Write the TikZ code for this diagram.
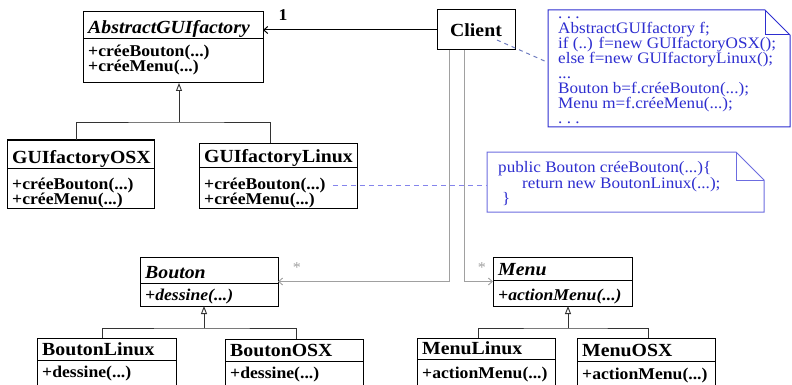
\documentclass[tikz,border=0pt]{standalone}
\usepackage{fontspec}
\setmainfont{Liberation Serif}[FakeStretch=1.07]
\usetikzlibrary{arrows.meta,calc}
\definecolor{noteblue}{HTML}{2E2ED0}
\definecolor{notelight}{HTML}{6C6CE0}
\definecolor{dashblue}{HTML}{8484EC}
\definecolor{dashgrey}{HTML}{6E7CC0}
\definecolor{assocgrey}{HTML}{A0A0A0}
\newcommand{\pdots}{...}

\tikzset{
  classbox/.style={draw=black, line width=1pt, inner sep=0pt, outer sep=0pt},
  classline/.style={black, line width=1pt},
  member/.style={font=\fontsize{16.5}{15}\selectfont\bfseries, inner sep=0pt},
  classtitle/.style={font=\fontsize{18.5}{20}\selectfont\bfseries, inner sep=0pt},
  notebox/.style={inner sep=0pt, outer sep=0pt},
  notetext/.style={noteblue, font=\fontsize{16}{15}\selectfont, inner sep=0pt},
  inherit/.style={black!80, line width=0.9pt},
  inherittip/.style={-{Triangle[open, length=8pt, width=6pt]}},
  assoc/.style={assocgrey, line width=0.9pt, -{Straight Barb[length=4pt, width=7pt]}},
}

% class box: name, x1, y1, x2, y2, divider, title, members, first baseline
\newcommand{\umlclass}[9]{%
  \node[classbox, anchor=north west, minimum width={#4-#2}, minimum height={#5-#3}] (#1) at (#2,#3) {};
  \draw[classline] (#2,#6) -- (#4,#6);
  \node[classtitle, anchor=base west] (#1-t) at ({#2+5},{#6-5}) {#7};
  \foreach \m [count=\i] in {#8} {
    \node[member, anchor=base west] (#1-m\i) at ({#2+5},{#9+15*(\i-1)}) {\m};
  }
}

% note with folded corner: name, x1, y1, x2, y2, fold, colour
\newcommand{\umlnote}[7]{%
  \node[notebox, anchor=north west, minimum width={#4-#2}, minimum height={#5-#3}] (#1) at (#2,#3) {};
  \draw[#7, line width=1pt] (#1.north west) -- ([xshift=-#6pt]#1.north east) -- ([yshift=-#6pt]#1.north east)
    -- (#1.south east) -- (#1.south west) -- cycle;
  \draw[#7, line width=1pt] ([xshift=-#6pt]#1.north east) |- ([yshift=-#6pt]#1.north east);
}

\begin{document}
\begin{tikzpicture}[x=1pt, y=-1pt]
  \clip (0,0) rectangle (792,385);
  \fill[white] (0,0) rectangle (792,385);

  % factories
  \umlclass{agf}{83}{12}{263}{83}{39}{\textit{AbstractGUIfactory}}{+créeBouton(\pdots), +créeMenu(\pdots)}{57}
  \umlclass{osx}{7}{140}{154}{208}{168}{GUIfactoryOSX}{+créeBouton(\pdots), +créeMenu(\pdots)}{189}
  \umlclass{linux}{199}{143}{357}{208}{167}{GUIfactoryLinux}{+créeBouton(\pdots), +créeMenu(\pdots)}{189}

  % products
  \umlclass{bouton}{140}{257}{278}{306}{283}{\textit{Bouton}}{\textit{+dessine(\pdots)}}{300}
  \umlclass{blinux}{37}{338}{176}{400}{360}{BoutonLinux}{+dessine(\pdots)}{377}
  \umlclass{bosx}{225}{339}{363}{400}{361}{BoutonOSX}{+dessine(\pdots)}{378}
  \umlclass{menu}{493}{257}{632}{306}{280}{\textit{Menu}}{\textit{+actionMenu(\pdots)}}{300}
  \umlclass{mlinux}{417}{338}{555}{400}{359}{MenuLinux}{+actionMenu(\pdots)}{378}
  \umlclass{mosx}{577}{338}{715}{400}{361}{MenuOSX}{+actionMenu(\pdots)}{379}

  \node[classbox, classtitle, minimum width=78pt, minimum height=40pt] (client) at (476,30) {Client};

  % notes
  \umlnote{note1}{548}{10}{790}{127}{25}{noteblue}
  \foreach \l [count=\i] in {{.\ .\ .}, {AbstractGUIfactory f;}, {if (..) f=new GUIfactoryOSX();},
      {else f=new GUIfactoryLinux();}, {\pdots}, {Bouton b=f.créeBouton(\pdots);}, {Menu m=f.créeMenu(\pdots);}, {.\ .\ .}}
    \node[notetext, anchor=base west] (note1-l\i) at (558,{19+14.9*(\i-1)}) {\l};

  \umlnote{note2}{487}{152}{764}{212}{28}{notelight}
  \node[notetext, anchor=base west] (note2-l1) at (498,172) {public Bouton créeBouton(...)\{};
  \node[notetext, anchor=base west] (note2-l2) at (522,188) {return new BoutonLinux(...);};
  \node[notetext, anchor=base west] (note2-l3) at (502,203) {\}};

  % inheritance
  \coordinate (agf-j) at (179,122);
  \draw[inherit, inherittip] (agf-j) -- (agf.south -| agf-j);
  \draw[inherit] (osx.north -| 76,0) |- (agf-j) -| (linux.north -| 270,0);
  \coordinate (bouton-j) at (204,328);
  \draw[inherit, inherittip] (bouton-j) -- (bouton.south -| bouton-j);
  \draw[inherit] (blinux.north -| 102,0) |- (bouton-j) -| (bosx.north -| 296,0);
  \coordinate (menu-j) at (568,328);
  \draw[inherit, inherittip] (menu-j) -- (menu.south -| menu-j);
  \draw[inherit] (mlinux.north -| 478,0) |- (menu-j) -| (mosx.north -| 648,0);

  % associations
  \draw[classline, -{Straight Barb[length=4pt, width=7pt]}] (client.west) -- (client.west -| agf.east);
  \node[member] (one) at (283,15) {1};
  \draw[assoc] (client.south -| 449,0) |- (bouton.east);
  \draw[assoc] (client.south -| 464,0) |- (menu.west);
  \node[assocgrey, font=\fontsize{15}{15}\selectfont] (star1) at (297,268) {*};
  \node[assocgrey, font=\fontsize{15}{15}\selectfont] (star2) at (482,268) {*};

  % note links
  \draw[dashgrey, line width=1pt, dash pattern=on 4pt off 4pt] ([shift={(21pt,-10pt)}]client.center) -- ([yshift=6pt]note1.west);
  \draw[dashblue, line width=1pt, dash pattern=on 5pt off 4pt] ([xshift=7pt]linux-m1.east) -- (linux-m1.east -| note2.west);
\end{tikzpicture}
\end{document}
